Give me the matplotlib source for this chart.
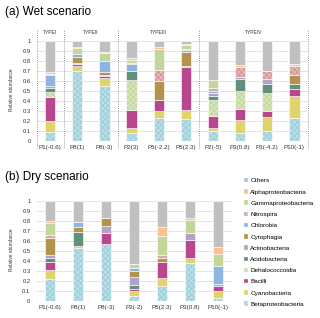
import matplotlib
matplotlib.use("Agg")
import matplotlib.pyplot as plt
from matplotlib.patches import Patch

plt.rcParams['font.family'] = ['Liberation Sans', 'DejaVu Sans']
plt.rcParams['hatch.linewidth'] = 0.2

# stacking order, bottom to top
taxa = ["Betaproteobacteria", "Cyanobacteria", "Bacilli", "Dehalococcoidia",
        "Acidobacteria", "Actinobacteria", "Cytophagia", "Chlorobia",
        "Nitrospira", "Gammaproteobacteria", "Alphaproteobacteria", "Others"]
colors = ["#A0D0DC", "#DFD36C", "#B8478F", "#C6D9A0", "#62907F", "#B3A2C7",
          "#B3944E", "#8DB4E2", "#D89A98", "#C3D69B", "#FAC090", "#C0C0C0"]
hatches = ["xxxxxx", "", "", "xxxxxx", "", "", "", "", "xxxxxx", "", "", ""]

# (a) wet scenario
wet_sites = ["P1(-0.6)", "P8(1)", "P8(-3)", "P2(3)", "P5(-2.2)", "P5(2.3)",
             "P2(-5)", "P3(0.8)", "P3(-4.2)", "P10(-1)"]
wet_types = ["TYPEI", "TYPEII", "TYPEIII", "TYPEIV"]
wet_type_sizes = [1, 2, 3, 4]

wet_beta = [.09, .70, .545, .075, .225, .22, .10, .076, .10, .233]
wet_cyano = [.11, .05, .085, .055, .075, .085, .025, .134, .143, .219]
wet_bacilli = [.24, .015, .015, .175, .105, .43, .125, .11, .057, .063]
wet_dehalo = [.045, 0, 0, .30, 0, 0, .155, .18, .175, 0]
wet_acido = [.045, 0, 0, .09, 0, .015, .045, .115, .09, .05]
wet_actino = [.015, .01, .01, 0, 0, 0, .025, .025, .055, 0]
wet_cyto = [0, .065, .035, 0, .19, .14, 0, 0, 0, .093]
wet_chloro = [.11, .03, .11, .075, 0, .02, .025, 0, 0, 0]
wet_nitro = [.01, 0, 0, .01, .115, .01, .025, .097, .078, .09]
wet_gamma = [0, .055, .075, .03, .205, .04, .08, 0, 0, 0]
wet_alpha = [.02, .01, .01, .02, .02, .01, 0, .02, 0, .016]
wet_others = [.315, .065, .115, .17, .065, .03, .395, .243, .302, .236]

# (b) dry scenario
dry_sites = ["P1(-0.6)", "P8(1)", "P8(-3)", "P2(-2)", "P5(2.3)", "P3(0.8)", "P10(-1)"]

dry_beta = [.225, .533, .567, .055, .147, .377, .027]
dry_cyano = [.083, .022, 0, .045, .086, .05, .076]
dry_bacilli = [.085, 0, .113, .023, .157, .183, .047]
dry_dehalo = [0, 0, 0, 0, 0, 0, 0]
dry_acido = [.04, .135, 0, .034, 0, 0, 0]
dry_actino = [.03, 0, .067, .083, 0, .067, .017]
dry_cyto = [.17, .05, .083, .057, .043, 0, 0]
dry_chloro = [0, .055, 0, .036, 0, 0, .183]
dry_nitro = [.03, 0, 0, 0, .024, 0, 0]
dry_gamma = [.117, 0, 0, .04, .19, .133, .117]
dry_alpha = [.023, 0, 0, 0, .093, .017, .07]
dry_others = [.197, .205, .17, .627, .26, .173, .463]

wet = [wet_beta, wet_cyano, wet_bacilli, wet_dehalo, wet_acido, wet_actino,
       wet_cyto, wet_chloro, wet_nitro, wet_gamma, wet_alpha, wet_others]
dry = [dry_beta, dry_cyano, dry_bacilli, dry_dehalo, dry_acido, dry_actino,
       dry_cyto, dry_chloro, dry_nitro, dry_gamma, dry_alpha, dry_others]


def draw_panel(ax, sites, data):
    x = list(range(len(sites)))
    bottom = [0.0] * len(sites)
    for vals, c, h in zip(data, colors, hatches):
        ax.bar(x, vals, 0.38, bottom=bottom, color=c, hatch=h,
               edgecolor="white", linewidth=0.4, zorder=3)
        bottom = [b + v for b, v in zip(bottom, vals)]
    ax.set_xlim(-0.5, len(sites) - 0.5)
    ax.set_ylim(0, 1)
    ax.set_yticks([i / 10 for i in range(11)])
    ax.set_yticklabels(["0"] + ["%.1f" % (i / 10) for i in range(1, 10)] + ["1"])
    ax.set_xticks(x)
    ax.set_xticklabels(sites)
    ax.tick_params(axis="x", length=0, pad=3, labelsize=4.5, colors="#333333")
    ax.tick_params(axis="y", length=0, pad=4, labelsize=4.2, colors="#333333")
    ax.grid(axis="y", color="#D9D9D9", linewidth=0.5, zorder=0)
    for s in ax.spines.values():
        s.set_visible(False)
    ax.axhline(0, color="#BFBFBF", linewidth=0.6, zorder=2)


fig = plt.figure(figsize=(3.2, 3.18), dpi=100)
W, H = 320, 318

ax1 = fig.add_axes([36.5 / W, 1 - 141 / H, 271.5 / W, 100.3 / H])
draw_panel(ax1, wet_sites, wet)

# type separators and labels
tr = ax1.get_xaxis_transform()
edges = [-0.5]
for n in wet_type_sizes:
    edges.append(edges[-1] + n)
for e in edges:
    ax1.plot([e, e], [-0.07, 1.12], transform=tr, color="#7F7F7F",
             linestyle=(0, (1, 1.5)), linewidth=0.6, clip_on=False, zorder=4)
for t, a, b in zip(wet_types, edges[:-1], edges[1:]):
    ax1.text((a + b) / 2, 1.085, t, transform=tr, ha="center", va="center",
             fontsize=3.6, color="#333333")

ax2 = fig.add_axes([36 / W, 1 - 301 / H, 196 / W, 100 / H])
draw_panel(ax2, dry_sites, dry)

fig.text(5 / W, 1 - 12 / H, "(a) Wet scenario", fontsize=8.5, va="center")
fig.text(5 / W, 1 - 177 / H, "(b) Dry scenario", fontsize=8.5, va="center")
fig.text(12 / W, 1 - 90 / H, "Relative abundance", rotation=90, fontsize=3.4,
         ha="center", va="center", color="#333333")
fig.text(12 / W, 1 - 250 / H, "Relative abundance", rotation=90, fontsize=3.4,
         ha="center", va="center", color="#333333")

handles = [Patch(facecolor=c, hatch=h, edgecolor="white", linewidth=0.2)
           for c, h in zip(colors, hatches)][::-1]
fig.legend(handles, taxa[::-1], loc="upper left",
           bbox_to_anchor=(244 / W, 1 - 178 / H), frameon=False, fontsize=4.6,
           handlelength=0.7, handleheight=0.7, handletextpad=0.3,
           labelspacing=0.9, borderpad=0, borderaxespad=0)

fig.savefig("out.png", dpi=100)
